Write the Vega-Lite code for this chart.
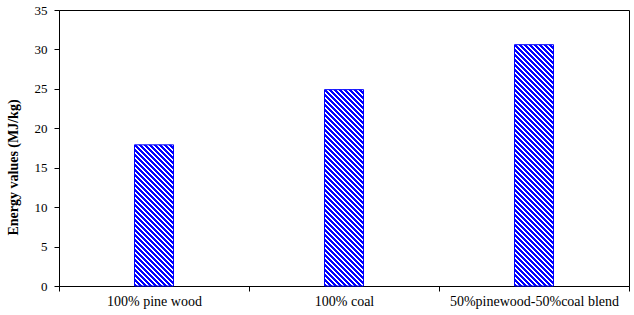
{
  "$schema": "https://vega.github.io/schema/vega-lite/v6.json",
  "width": 570,
  "height": 276,
  "autosize": "none",
  "padding": {"left": 59, "top": 10, "right": 5, "bottom": 29},
  "background": "white",
  "data": {
    "values": [
      {"blend": "100% pine wood", "energy": 17.9},
      {"blend": "100% coal", "energy": 24.9},
      {"blend": "50%pinewood-50%coal blend", "energy": 30.6}
    ]
  },
  "encoding": {
    "x": {
      "field": "blend",
      "type": "nominal",
      "sort": null,
      "title": null,
      "scale": {"paddingInner": 0, "paddingOuter": 0},
      "axis": {
        "labelAngle": 0,
        "tickBand": "extent",
        "tickSize": 5,
        "labelFontSize": 14,
        "labelPadding": 3,
        "domainWidth": 1
      }
    }
  },
  "layer": [
    {
      "mark": {
        "type": "bar",
        "size": 39,
        "fill": {
          "gradient": "linear",
          "x1": 0, "y1": 1, "x2": 0.25457, "y2": -0.59568,
          "stops": [
            {"offset":0,"color":"#00f"},{"offset":0.0065,"color":"#00f"},{"offset":0.0065,"color":"#fff"},{"offset":0.0125,"color":"#fff"},
            {"offset":0.0125,"color":"#00f"},{"offset":0.019,"color":"#00f"},{"offset":0.019,"color":"#fff"},{"offset":0.025,"color":"#fff"},
            {"offset":0.025,"color":"#00f"},{"offset":0.0315,"color":"#00f"},{"offset":0.0315,"color":"#fff"},{"offset":0.0375,"color":"#fff"},
            {"offset":0.0375,"color":"#00f"},{"offset":0.044,"color":"#00f"},{"offset":0.044,"color":"#fff"},{"offset":0.05,"color":"#fff"},
            {"offset":0.05,"color":"#00f"},{"offset":0.0565,"color":"#00f"},{"offset":0.0565,"color":"#fff"},{"offset":0.0625,"color":"#fff"},
            {"offset":0.0625,"color":"#00f"},{"offset":0.069,"color":"#00f"},{"offset":0.069,"color":"#fff"},{"offset":0.075,"color":"#fff"},
            {"offset":0.075,"color":"#00f"},{"offset":0.0815,"color":"#00f"},{"offset":0.0815,"color":"#fff"},{"offset":0.0875,"color":"#fff"},
            {"offset":0.0875,"color":"#00f"},{"offset":0.094,"color":"#00f"},{"offset":0.094,"color":"#fff"},{"offset":0.1,"color":"#fff"},
            {"offset":0.1,"color":"#00f"},{"offset":0.1065,"color":"#00f"},{"offset":0.1065,"color":"#fff"},{"offset":0.1125,"color":"#fff"},
            {"offset":0.1125,"color":"#00f"},{"offset":0.119,"color":"#00f"},{"offset":0.119,"color":"#fff"},{"offset":0.125,"color":"#fff"},
            {"offset":0.125,"color":"#00f"},{"offset":0.1315,"color":"#00f"},{"offset":0.1315,"color":"#fff"},{"offset":0.1375,"color":"#fff"},
            {"offset":0.1375,"color":"#00f"},{"offset":0.144,"color":"#00f"},{"offset":0.144,"color":"#fff"},{"offset":0.15,"color":"#fff"},
            {"offset":0.15,"color":"#00f"},{"offset":0.1565,"color":"#00f"},{"offset":0.1565,"color":"#fff"},{"offset":0.1625,"color":"#fff"},
            {"offset":0.1625,"color":"#00f"},{"offset":0.169,"color":"#00f"},{"offset":0.169,"color":"#fff"},{"offset":0.175,"color":"#fff"},
            {"offset":0.175,"color":"#00f"},{"offset":0.1815,"color":"#00f"},{"offset":0.1815,"color":"#fff"},{"offset":0.1875,"color":"#fff"},
            {"offset":0.1875,"color":"#00f"},{"offset":0.194,"color":"#00f"},{"offset":0.194,"color":"#fff"},{"offset":0.2,"color":"#fff"},
            {"offset":0.2,"color":"#00f"},{"offset":0.2065,"color":"#00f"},{"offset":0.2065,"color":"#fff"},{"offset":0.2125,"color":"#fff"},
            {"offset":0.2125,"color":"#00f"},{"offset":0.219,"color":"#00f"},{"offset":0.219,"color":"#fff"},{"offset":0.225,"color":"#fff"},
            {"offset":0.225,"color":"#00f"},{"offset":0.2315,"color":"#00f"},{"offset":0.2315,"color":"#fff"},{"offset":0.2375,"color":"#fff"},
            {"offset":0.2375,"color":"#00f"},{"offset":0.244,"color":"#00f"},{"offset":0.244,"color":"#fff"},{"offset":0.25,"color":"#fff"},
            {"offset":0.25,"color":"#00f"},{"offset":0.2565,"color":"#00f"},{"offset":0.2565,"color":"#fff"},{"offset":0.2625,"color":"#fff"},
            {"offset":0.2625,"color":"#00f"},{"offset":0.269,"color":"#00f"},{"offset":0.269,"color":"#fff"},{"offset":0.275,"color":"#fff"},
            {"offset":0.275,"color":"#00f"},{"offset":0.2815,"color":"#00f"},{"offset":0.2815,"color":"#fff"},{"offset":0.2875,"color":"#fff"},
            {"offset":0.2875,"color":"#00f"},{"offset":0.294,"color":"#00f"},{"offset":0.294,"color":"#fff"},{"offset":0.3,"color":"#fff"},
            {"offset":0.3,"color":"#00f"},{"offset":0.3065,"color":"#00f"},{"offset":0.3065,"color":"#fff"},{"offset":0.3125,"color":"#fff"},
            {"offset":0.3125,"color":"#00f"},{"offset":0.319,"color":"#00f"},{"offset":0.319,"color":"#fff"},{"offset":0.325,"color":"#fff"},
            {"offset":0.325,"color":"#00f"},{"offset":0.3315,"color":"#00f"},{"offset":0.3315,"color":"#fff"},{"offset":0.3375,"color":"#fff"},
            {"offset":0.3375,"color":"#00f"},{"offset":0.344,"color":"#00f"},{"offset":0.344,"color":"#fff"},{"offset":0.35,"color":"#fff"},
            {"offset":0.35,"color":"#00f"},{"offset":0.3565,"color":"#00f"},{"offset":0.3565,"color":"#fff"},{"offset":0.3625,"color":"#fff"},
            {"offset":0.3625,"color":"#00f"},{"offset":0.369,"color":"#00f"},{"offset":0.369,"color":"#fff"},{"offset":0.375,"color":"#fff"},
            {"offset":0.375,"color":"#00f"},{"offset":0.3815,"color":"#00f"},{"offset":0.3815,"color":"#fff"},{"offset":0.3875,"color":"#fff"},
            {"offset":0.3875,"color":"#00f"},{"offset":0.394,"color":"#00f"},{"offset":0.394,"color":"#fff"},{"offset":0.4,"color":"#fff"},
            {"offset":0.4,"color":"#00f"},{"offset":0.4065,"color":"#00f"},{"offset":0.4065,"color":"#fff"},{"offset":0.4125,"color":"#fff"},
            {"offset":0.4125,"color":"#00f"},{"offset":0.419,"color":"#00f"},{"offset":0.419,"color":"#fff"},{"offset":0.425,"color":"#fff"},
            {"offset":0.425,"color":"#00f"},{"offset":0.4315,"color":"#00f"},{"offset":0.4315,"color":"#fff"},{"offset":0.4375,"color":"#fff"},
            {"offset":0.4375,"color":"#00f"},{"offset":0.444,"color":"#00f"},{"offset":0.444,"color":"#fff"},{"offset":0.45,"color":"#fff"},
            {"offset":0.45,"color":"#00f"},{"offset":0.4565,"color":"#00f"},{"offset":0.4565,"color":"#fff"},{"offset":0.4625,"color":"#fff"},
            {"offset":0.4625,"color":"#00f"},{"offset":0.469,"color":"#00f"},{"offset":0.469,"color":"#fff"},{"offset":0.475,"color":"#fff"},
            {"offset":0.475,"color":"#00f"},{"offset":0.4815,"color":"#00f"},{"offset":0.4815,"color":"#fff"},{"offset":0.4875,"color":"#fff"},
            {"offset":0.4875,"color":"#00f"},{"offset":0.494,"color":"#00f"},{"offset":0.494,"color":"#fff"},{"offset":0.5,"color":"#fff"},
            {"offset":0.5,"color":"#00f"},{"offset":0.5065,"color":"#00f"},{"offset":0.5065,"color":"#fff"},{"offset":0.5125,"color":"#fff"},
            {"offset":0.5125,"color":"#00f"},{"offset":0.519,"color":"#00f"},{"offset":0.519,"color":"#fff"},{"offset":0.525,"color":"#fff"},
            {"offset":0.525,"color":"#00f"},{"offset":0.5315,"color":"#00f"},{"offset":0.5315,"color":"#fff"},{"offset":0.5375,"color":"#fff"},
            {"offset":0.5375,"color":"#00f"},{"offset":0.544,"color":"#00f"},{"offset":0.544,"color":"#fff"},{"offset":0.55,"color":"#fff"},
            {"offset":0.55,"color":"#00f"},{"offset":0.5565,"color":"#00f"},{"offset":0.5565,"color":"#fff"},{"offset":0.5625,"color":"#fff"},
            {"offset":0.5625,"color":"#00f"},{"offset":0.569,"color":"#00f"},{"offset":0.569,"color":"#fff"},{"offset":0.575,"color":"#fff"},
            {"offset":0.575,"color":"#00f"},{"offset":0.5815,"color":"#00f"},{"offset":0.5815,"color":"#fff"},{"offset":0.5875,"color":"#fff"},
            {"offset":0.5875,"color":"#00f"},{"offset":0.594,"color":"#00f"},{"offset":0.594,"color":"#fff"},{"offset":0.6,"color":"#fff"},
            {"offset":0.6,"color":"#00f"},{"offset":0.6065,"color":"#00f"},{"offset":0.6065,"color":"#fff"},{"offset":0.6125,"color":"#fff"},
            {"offset":0.6125,"color":"#00f"},{"offset":0.619,"color":"#00f"},{"offset":0.619,"color":"#fff"},{"offset":0.625,"color":"#fff"},
            {"offset":0.625,"color":"#00f"},{"offset":0.6315,"color":"#00f"},{"offset":0.6315,"color":"#fff"},{"offset":0.6375,"color":"#fff"},
            {"offset":0.6375,"color":"#00f"},{"offset":0.644,"color":"#00f"},{"offset":0.644,"color":"#fff"},{"offset":0.65,"color":"#fff"},
            {"offset":0.65,"color":"#00f"},{"offset":0.6565,"color":"#00f"},{"offset":0.6565,"color":"#fff"},{"offset":0.6625,"color":"#fff"},
            {"offset":0.6625,"color":"#00f"},{"offset":0.669,"color":"#00f"},{"offset":0.669,"color":"#fff"},{"offset":0.675,"color":"#fff"},
            {"offset":0.675,"color":"#00f"},{"offset":0.6815,"color":"#00f"},{"offset":0.6815,"color":"#fff"},{"offset":0.6875,"color":"#fff"},
            {"offset":0.6875,"color":"#00f"},{"offset":0.694,"color":"#00f"},{"offset":0.694,"color":"#fff"},{"offset":0.7,"color":"#fff"},
            {"offset":0.7,"color":"#00f"},{"offset":0.7065,"color":"#00f"},{"offset":0.7065,"color":"#fff"},{"offset":0.7125,"color":"#fff"},
            {"offset":0.7125,"color":"#00f"},{"offset":0.719,"color":"#00f"},{"offset":0.719,"color":"#fff"},{"offset":0.725,"color":"#fff"}
          ]
        }
      },
      "encoding": {
        "y": {"datum": 0, "type": "quantitative", "scale": {"domain": [0, 35], "nice": false}, "title": "Energy values (MJ/kg)"},
        "y2": {"datum": 31}
      }
    },
    {
      "mark": {"type": "bar", "size": 42, "fill": "white", "stroke": null},
      "encoding": {
        "y": {"field": "energy", "type": "quantitative", "title": "Energy values (MJ/kg)"},
        "y2": {"datum": 31.5}
      }
    },
    {
      "mark": {"type": "bar", "size": 39, "fill": "transparent", "stroke": "#0000ff", "strokeWidth": 1},
      "encoding": {
        "y": {"field": "energy", "type": "quantitative", "title": "Energy values (MJ/kg)"}
      }
    }
  ],
  "config": {
    "font": "Liberation Serif",
    "view": {"stroke": "black", "strokeWidth": 1},
    "axis": {
      "grid": false,
      "domainColor": "black",
      "tickColor": "black",
      "labelColor": "black",
      "titleColor": "black",
      "labelFont": "Liberation Serif",
      "titleFont": "Liberation Serif"
    },
    "axisY": {
      "values": [0, 5, 10, 15, 20, 25, 30, 35],
      "tickSize": 5,
      "labelPadding": 7,
      "labelFontSize": 13,
      "titleFontSize": 14,
      "titleFontWeight": "bold",
      "titlePadding": 14,
      "titleY": 157
    }
  }
}
